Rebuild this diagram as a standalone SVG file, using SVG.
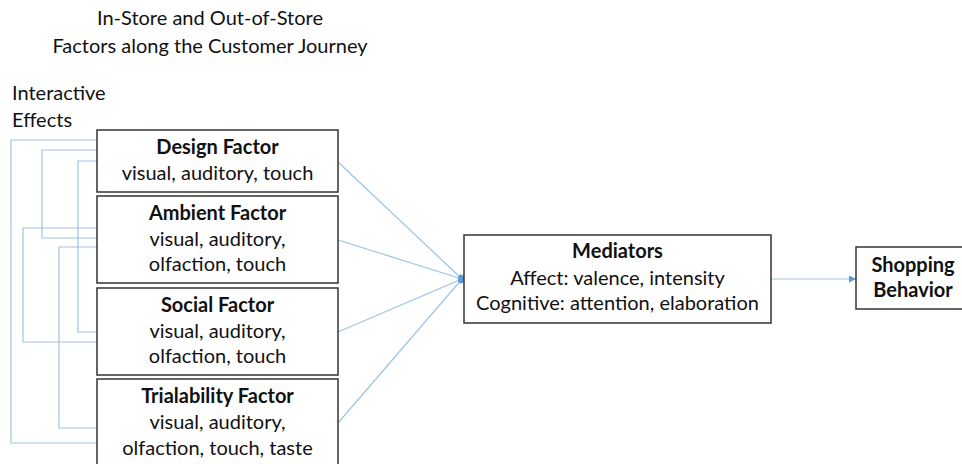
<svg xmlns="http://www.w3.org/2000/svg" width="962" height="464" viewBox="0 0 962 464">
<defs>
<style>
text{font-family:Lato,"Liberation Sans",sans-serif;font-size:20px;fill:#111}
.b{font-weight:bold}
.box{fill:#fff;stroke:#333;stroke-width:1.5}
.c{fill:none;stroke:#9dc3e6;stroke-width:1.2}
</style>
<marker id="arr" viewBox="0 0 10 10" refX="10" refY="5" markerWidth="7" markerHeight="7" orient="auto" markerUnits="userSpaceOnUse">
<path d="M0,0 L10,5 L0,10 z" fill="#5b9bd5"/>
</marker>
</defs>
<rect width="962" height="464" fill="#fff"/>
<g id="title">
<text x="210" y="25" text-anchor="middle">In-Store and Out-of-Store</text>
<text x="210" y="53" text-anchor="middle">Factors along the Customer Journey</text>
</g>
<g id="interactive-label">
<text x="12" y="100">Interactive</text>
<text x="12" y="127">Effects</text>
</g>
<g id="connectors">
<path class="c" d="M97,140 H11 V443 H97"/>
<path class="c" d="M97,150 H42 V238 H97"/>
<path class="c" d="M97,161 H78 V332 H97"/>
<path class="c" d="M97,228 H23 V342 H97"/>
<path class="c" d="M97,247 H59 V428 H97"/>
<line class="c" x1="338" y1="162" x2="462" y2="279"/>
<line class="c" x1="338" y1="240" x2="462" y2="279"/>
<line class="c" x1="338" y1="332" x2="462" y2="279"/>
<line class="c" x1="338" y1="423" x2="462" y2="279"/>
<ellipse cx="461" cy="279" rx="3" ry="4.5" fill="#5b9bd5"/>
<line class="c" x1="771" y1="279" x2="856" y2="279" marker-end="url(#arr)"/>
</g>
<g id="design">
<rect class="box" x="97" y="130" width="241" height="62"/>
<text class="b" x="217.5" y="154" text-anchor="middle">Design Factor</text>
<text x="217.5" y="180" text-anchor="middle">visual, auditory, touch</text>
</g>
<g id="ambient">
<rect class="box" x="97" y="196" width="241" height="87"/>
<text class="b" x="217.5" y="220" text-anchor="middle">Ambient Factor</text>
<text x="217.5" y="246" text-anchor="middle">visual, auditory,</text>
<text x="217.5" y="271" text-anchor="middle">olfaction, touch</text>
</g>
<g id="social">
<rect class="box" x="97" y="288" width="241" height="87"/>
<text class="b" x="217.5" y="312" text-anchor="middle">Social Factor</text>
<text x="217.5" y="338" text-anchor="middle">visual, auditory,</text>
<text x="217.5" y="363" text-anchor="middle">olfaction, touch</text>
</g>
<g id="trialability">
<rect class="box" x="97" y="379" width="241" height="100"/>
<text class="b" x="217.5" y="403" text-anchor="middle">Trialability Factor</text>
<text x="217.5" y="429" text-anchor="middle">visual, auditory,</text>
<text x="217.5" y="455" text-anchor="middle">olfaction, touch, taste</text>
</g>
<g id="mediators">
<rect class="box" x="464" y="235" width="307" height="88"/>
<text class="b" x="617.5" y="258" text-anchor="middle">Mediators</text>
<text x="617.5" y="285" text-anchor="middle">Affect: valence, intensity</text>
<text x="617.5" y="310" text-anchor="middle">Cognitive: attention, elaboration</text>
</g>
<g id="shopping">
<rect class="box" x="856" y="247" width="110" height="62"/>
<text class="b" x="913" y="272" text-anchor="middle">Shopping</text>
<text class="b" x="913" y="297" text-anchor="middle">Behavior</text>
</g>
</svg>
